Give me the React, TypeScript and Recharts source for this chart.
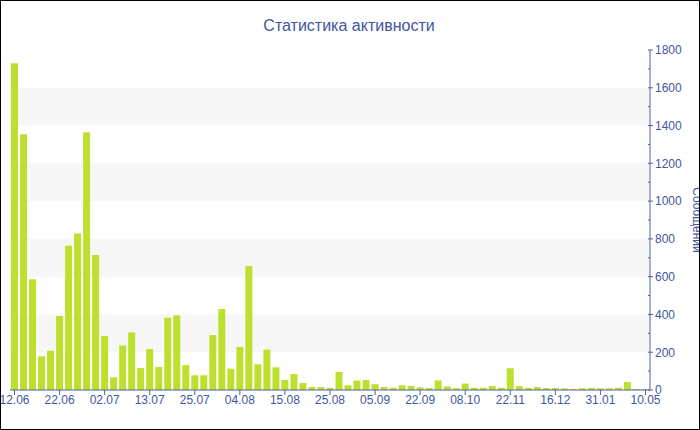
import React from "react";
import { BarChart, Bar, XAxis, YAxis, ReferenceArea } from "recharts";

// Days with activity (dd.mm) and the number of messages on each
const dates: string[] = [
  "12.06", "14.06", "16.06", "18.06", "20.06",
  "22.06", "24.06", "26.06", "28.06", "30.06",
  "02.07", "04.07", "06.07", "09.07", "11.07",
  "13.07", "15.07", "18.07", "20.07", "22.07",
  "25.07", "27.07", "29.07", "31.07", "02.08",
  "04.08", "06.08", "08.08", "11.08", "13.08",
  "15.08", "17.08", "19.08", "21.08", "23.08",
  "25.08", "27.08", "30.08", "01.09", "03.09",
  "05.09", "08.09", "12.09", "15.09", "19.09",
  "22.09", "25.09", "29.09", "02.10", "05.10",
  "08.10", "15.10", "24.10", "02.11", "12.11",
  "22.11", "27.11", "02.12", "07.12", "11.12",
  "16.12", "21.12", "29.12", "10.01", "20.01",
  "31.01", "18.02", "10.03", "02.04", "23.04",
  "10.05",
];

const messages: number[] = [
  1730, 1354, 586, 178, 208,
  392, 764, 828, 1364, 715,
  286, 67, 236, 305, 116,
  217, 122, 383, 395, 132,
  78, 78, 291, 429, 113,
  228, 656, 136, 214, 120,
  53, 85, 37, 16, 16,
  11, 95, 25, 50, 53,
  31, 16, 12, 25, 21,
  14, 11, 51, 19, 10,
  34, 12, 12, 21, 12,
  115, 21, 11, 16, 11,
  11, 9, 5, 9, 11,
  9, 9, 12, 42, 5,
  5,
];

const yTicks: number[] = [
  0, 100, 200, 300, 400, 500, 600, 700, 800, 900,
  1000, 1100, 1200, 1300, 1400, 1500, 1600, 1700, 1800,
];

// Shaded horizontal stripes [from, to]
const stripes: [number, number][] = [
  [200, 400],
  [600, 800],
  [1000, 1200],
  [1400, 1600],
];

const title = "Статистика активности";
const yTitle = "Сообщений";

const data = dates.map((d, i) => ({ date: d, value: messages[i] }));

const FONT = "'Liberation Sans', Arial, sans-serif";
const AXIS = "#4d62a8";
const TEXT = "#3f56a0";
const BAR = "#bde02e";

const YTick = (props: any) => {
  const { x, y, payload } = props;
  const major = payload.value % 200 === 0;
  return (
    <g>
      <line
        x1={x - 2}
        x2={major ? x + 3 : x}
        y1={y}
        y2={y}
        stroke={AXIS}
        strokeWidth={1}
      />
      {major && (
        <text
          x={x + 5}
          y={y}
          dy="0.36em"
          fill={TEXT}
          fontSize={12}
          fontFamily={FONT}
          textAnchor="start"
        >
          {payload.value}
        </text>
      )}
    </g>
  );
};

export default function App() {
  return (
    <div
      style={{
        position: "absolute",
        left: 0,
        top: 0,
        width: 700,
        height: 430,
        background: "#ffffff",
        overflow: "hidden",
      }}
    >
      <BarChart
        width={700}
        height={430}
        data={data}
        margin={{ top: 50, right: 10, bottom: 10, left: 10 }}
      >
        {stripes.map(([a, b]) => (
          <ReferenceArea
            key={a}
            y1={a}
            y2={b}
            fill="#f7f7f7"
            fillOpacity={1}
            stroke="none"
          />
        ))}
        <XAxis
          dataKey="date"
          interval={4}
          height={30}
          tickSize={5}
          tickMargin={0}
          axisLine={{ stroke: AXIS, strokeWidth: 1 }}
          tickLine={{ stroke: AXIS, strokeWidth: 1 }}
          tick={{ fill: TEXT, fontSize: 12, fontFamily: FONT }}
        />
        <YAxis
          orientation="right"
          width={40}
          domain={[0, 1800]}
          ticks={yTicks}
          interval={0}
          tickSize={0}
          tickMargin={0}
          tickLine={false}
          axisLine={{ stroke: AXIS, strokeWidth: 1 }}
          tick={<YTick />}
        />
        <Bar
          dataKey="value"
          fill={BAR}
          barSize={7}
          isAnimationActive={false}
        />
      </BarChart>
      <svg
        width={700}
        height={430}
        style={{ position: "absolute", left: 0, top: 0, pointerEvents: "none" }}
      >
        <text
          x={349}
          y={31}
          textAnchor="middle"
          fill={TEXT}
          fontSize={16}
          fontFamily={FONT}
        >
          {title}
        </text>
        <text
          x={693}
          y={220}
          textAnchor="middle"
          fill={TEXT}
          fontSize={12}
          fontFamily={FONT}
          transform="rotate(90 693 220)"
        >
          {yTitle}
        </text>
      </svg>
      <div
        style={{
          position: "absolute",
          left: 0,
          top: 0,
          width: 700,
          height: 430,
          boxSizing: "border-box",
          border: "1px solid #000",
          pointerEvents: "none",
        }}
      />
    </div>
  );
}
